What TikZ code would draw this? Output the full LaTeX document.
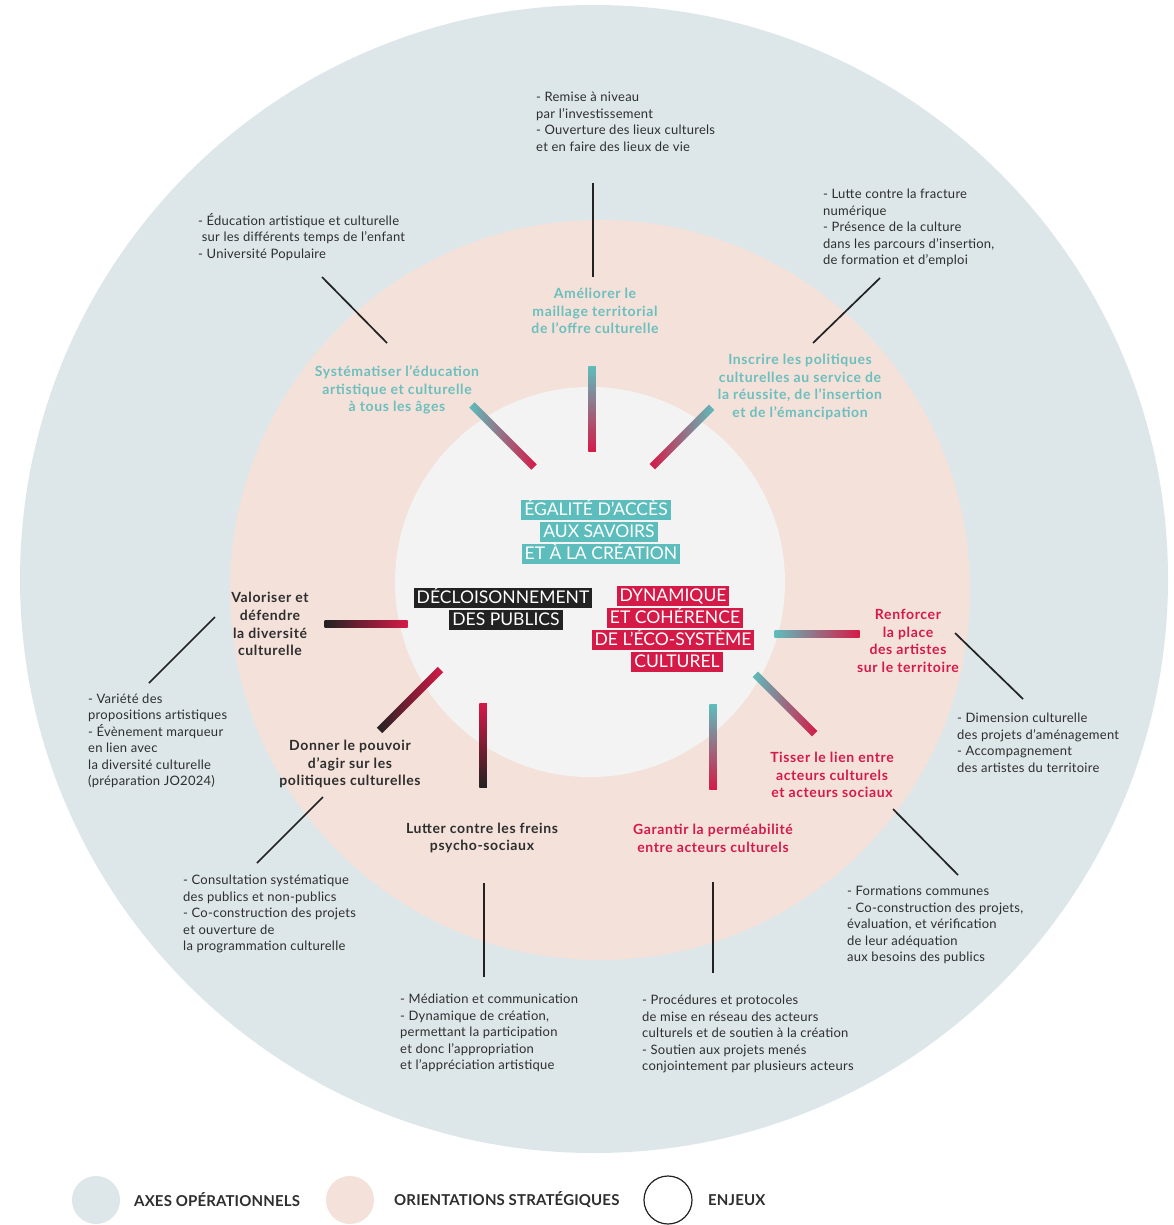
\documentclass[tikz,border=0pt]{standalone}
\usepackage{fontspec}
\setmainfont{Lato}
\definecolor{outerc}{HTML}{DDE7EA}
\definecolor{midc}{HTML}{F3E1DA}
\definecolor{innerc}{HTML}{F3F3F3}
\definecolor{tealc}{HTML}{5DBDBD}
\definecolor{tealt}{HTML}{6DBFBD}
\definecolor{redc}{HTML}{D51A47}
\definecolor{darkc}{HTML}{222222}
\definecolor{textc}{HTML}{2E2E2E}
\newfontfamily\descfont[Ligatures=TeX,LetterSpace=2]{Lato}
\newfontfamily\labfont[Ligatures=TeX,LetterSpace=4.5]{Lato}
\newfontfamily\legfont[Ligatures=TeX,LetterSpace=1]{Lato}
\tikzset{
  desc/.style={anchor=west, align=left, text=textc, font=\descfont\fontsize{13}{16.5}\selectfont, inner sep=0pt},
  lab/.style={align=center, font=\labfont\bfseries\fontsize{14}{17.8}\selectfont, inner sep=0pt},
  tlab/.style={lab, text=tealt},
  rlab/.style={lab, text=redc},
  dlab/.style={lab, text=textc},
  hbox/.style={fill=#1, text=white, font=\fontsize{17.5}{20}\selectfont, inner xsep=3pt, inner ysep=1.8pt, text height=14pt, text depth=2.5pt},
  gbar/.style={inner sep=0pt, minimum height=7.5pt, draw=none},
  vbar/.style={inner sep=0pt, minimum width=7.5pt, draw=none},
  conn/.style={draw=darkc, line width=1.7pt},
  legc/.style={circle, minimum size=48pt, inner sep=0pt},
  legt/.style={anchor=west, text=textc, font=\legfont\bfseries\fontsize{15}{17}\selectfont, inner sep=0pt}
}
\begin{document}
\begin{tikzpicture}[x=1pt,y=-1pt]
\useasboundingbox (0,0) rectangle (1173,1225);
\fill[white] (0,0) rectangle (1173,1225);
% circles
\fill[outerc] (594,579) circle (574);
\fill[midc] (600,590) circle (370);
\fill[innerc] (590,582) circle (195);

% central boxes
\node[hbox=tealc] (e1) at (596,510) {ÉGALITÉ D'ACCÈS};
\node[hbox=tealc] (e2) at (599,532) {AUX SAVOIRS};
\node[hbox=tealc] (e3) at (601,554) {ET À LA CRÉATION};
\node[hbox=darkc] (d1) at (503,598) {DÉCLOISONNEMENT};
\node[hbox=darkc] (d2) at (506,620) {DES PUBLICS};
\node[hbox=redc] (r1) at (673,596) {DYNAMIQUE};
\node[hbox=redc] (r2) at (675,618) {ET COHÉRENCE};
\node[hbox=redc] (r3) at (673,640) {DE L'ÉCO-SYSTÈME};
\node[hbox=redc] (r4) at (677,662) {CULTUREL};

% gradient bars
\node[gbar, minimum width=88pt, rotate=-45, left color=tealc, right color=redc] (b1) at (503,436) {};
\node[vbar, minimum height=85pt, top color=tealc, bottom color=redc] (b2) at (592,409) {};
\node[gbar, minimum width=84pt, rotate=-135, left color=redc, right color=tealc] (b3) at (682,437) {};
\node[gbar, minimum width=83pt, left color=darkc, right color=redc] (b4) at (366,624) {};
\node[gbar, minimum width=86pt, rotate=45, left color=darkc, right color=redc] (b5) at (410,700) {};
\node[vbar, minimum height=84pt, top color=redc, bottom color=darkc] (b6) at (483,745) {};
\node[gbar, minimum width=85pt, left color=tealc, right color=redc] (b7) at (817,634) {};
\node[gbar, minimum width=84pt, rotate=-45, left color=tealc, right color=redc] (b8) at (785,704) {};
\node[vbar, minimum height=85pt, top color=tealc, bottom color=redc] (b9) at (713,747) {};

% orientation labels
\node[tlab] (o1) at (595,311) {Améliorer le\\maillage territorial\\de l'offre culturelle};
\node[tlab] (o2) at (397,390) {Systématiser l'éducation\\artistique et culturelle\\à tous les âges};
\node[tlab] (o3) at (800,387) {Inscrire les politiques\\culturelles au service de\\la réussite, de l'insertion\\et de l'émancipation};
\node[dlab] (o4) at (270,624) {Valoriser et\\défendre\\la diversité\\culturelle};
\node[dlab] (o5) at (350,764) {Donner le pouvoir\\d'agir sur les\\politiques culturelles};
\node[dlab] (o6) at (482,838) {Lutter contre les freins\\psycho-sociaux};
\node[rlab] (o7) at (908,641) {Renforcer\\la place\\des artistes\\sur le territoire};
\node[rlab] (o8) at (832,775) {Tisser le lien entre\\acteurs culturels\\et acteurs sociaux};
\node[rlab] (o9) at (713,838) {Garantir la perméabilité\\entre acteurs culturels};

% operational axes
\node[desc] (a1) at (536,122) {- Remise à niveau\\par l'investissement\\- Ouverture des lieux culturels\\et en faire des lieux de vie};
\node[desc] (a2) at (198,237) {- Éducation artistique et culturelle\\\ sur les différents temps de l'enfant\\- Université Populaire};
\node[desc] (a3) at (823,228) {- Lutte contre la fracture\\numérique\\- Présence de la culture\\dans les parcours d'insertion,\\de formation et d'emploi};
\node[desc] (a4) at (88,741) {- Variété des\\propositions artistiques\\- Évènement marqueur\\en lien avec\\la diversité culturelle\\(préparation JO2024)};
\node[desc] (a5) at (183,914) {- Consultation systématique\\des publics et non-publics\\- Co-construction des projets\\et ouverture de\\la programmation culturelle};
\node[desc] (a6) at (400,1033) {- Médiation et communication\\- Dynamique de création,\\permettant la participation\\et donc l'appropriation\\et l'appréciation artistique};
\node[desc] (a7) at (642,1034) {- Procédures et protocoles\\de mise en réseau des acteurs\\culturels et de soutien à la création\\- Soutien aux projets menés\\conjointement par plusieurs acteurs};
\node[desc] (a8) at (847,925) {- Formations communes\\- Co-construction des projets,\\évaluation, et vérification\\de leur adéquation\\aux besoins des publics};
\node[desc] (a9) at (957,743) {- Dimension culturelle\\des projets d'aménagement\\- Accompagnement\\des artistes du territoire};

% connector end points
\coordinate (ca1) at (593,183); \coordinate (co1) at (593,277);
\coordinate (ca2) at (322,277); \coordinate (co2) at (387,343);
\coordinate (ca3) at (880,278); \coordinate (co3) at (813,343);
\coordinate (co4) at (215,617); \coordinate (ca4) at (149,683);
\coordinate (co5) at (323,797); \coordinate (ca5) at (257,863);
\coordinate (co6) at (484,883); \coordinate (ca6) at (484,977);
\coordinate (co9) at (713,882); \coordinate (ca7) at (713,973);
\coordinate (co8) at (893,809); \coordinate (ca8) at (958,875);
\coordinate (co7) at (955,633); \coordinate (ca9) at (1023,699);
\draw[conn] (ca1) -- (co1);
\draw[conn] (ca2) -- (co2);
\draw[conn] (ca3) -- (co3);
\draw[conn] (co4) -- (ca4);
\draw[conn] (co5) -- (ca5);
\draw[conn] (co6) -- (ca6);
\draw[conn] (co9) -- (ca7);
\draw[conn] (co8) -- (ca8);
\draw[conn] (co7) -- (ca9);

% legend
\node[legc, fill=outerc] (l1) at (96,1200) {};
\node[legt] (lt1) at (134,1200) {AXES OPÉRATIONNELS};
\node[legc, fill=midc] (l2) at (350,1200) {};
\node[legt] (lt2) at (394,1200) {ORIENTATIONS STRATÉGIQUES};
\node[legc, fill=white, draw=darkc, line width=1.2pt] (l3) at (668,1200) {};
\node[legt] (lt3) at (708,1200) {ENJEUX};
\end{tikzpicture}
\end{document}
